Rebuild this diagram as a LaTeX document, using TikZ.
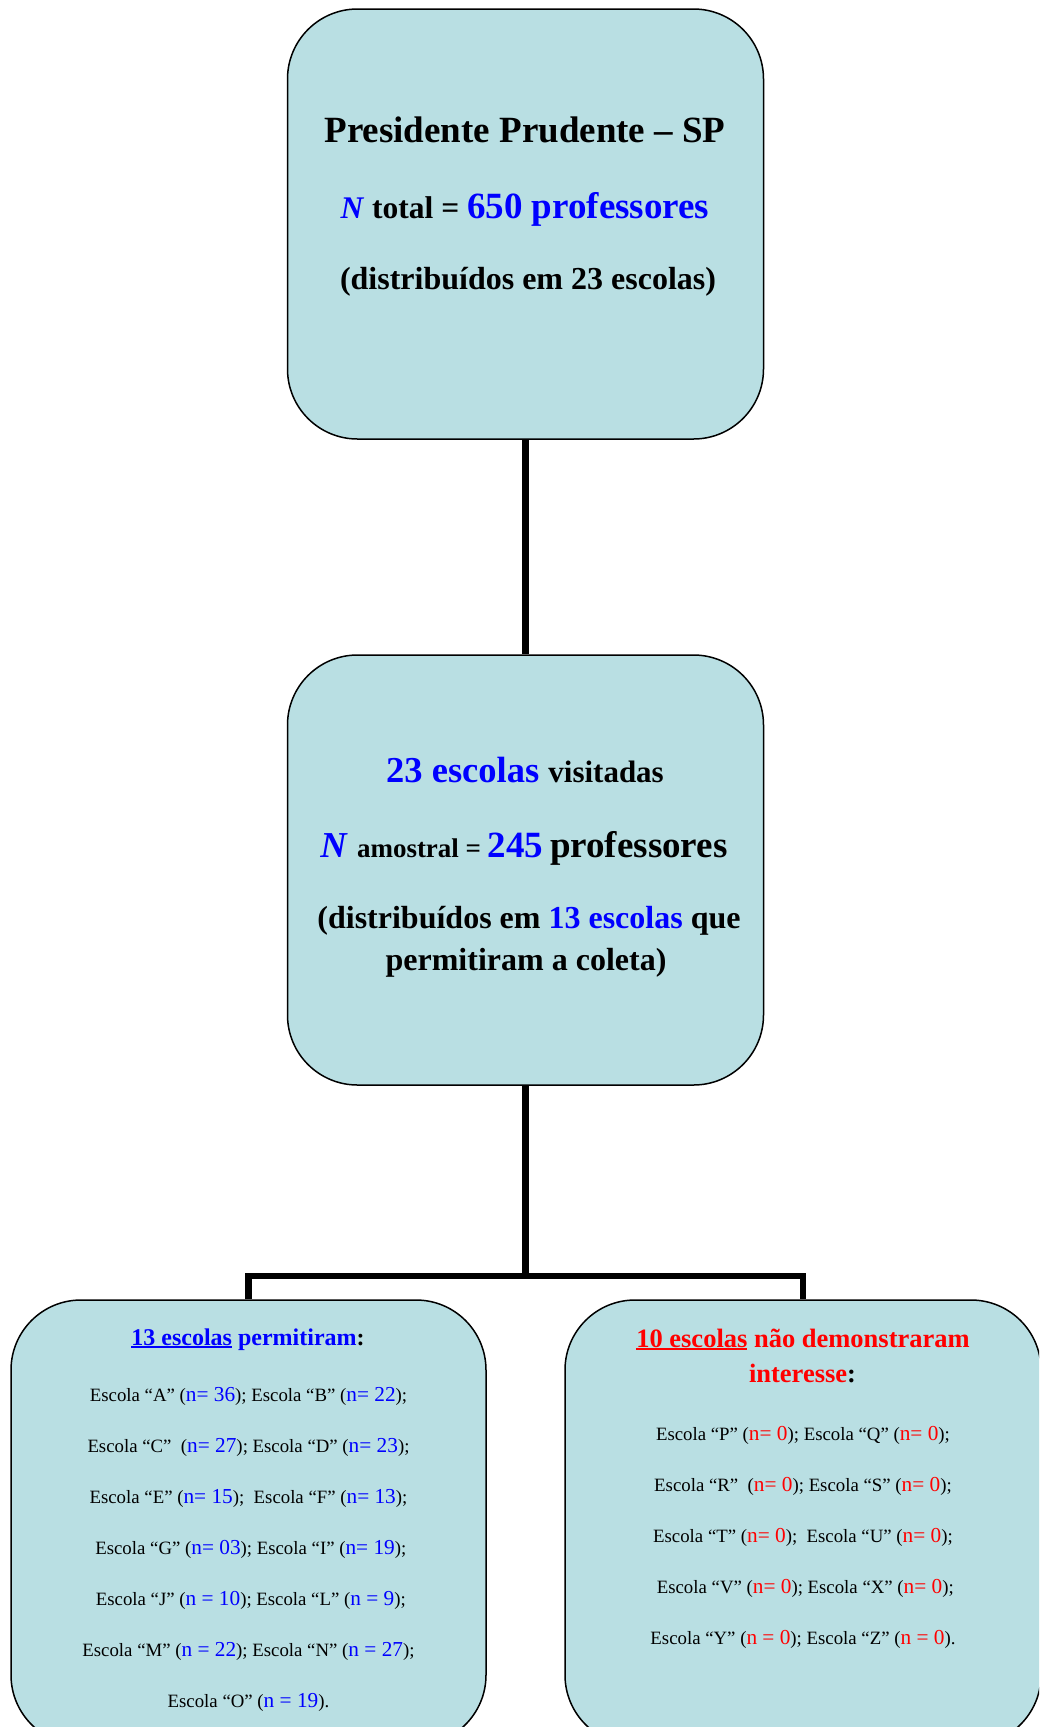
\documentclass[tikz,border=0pt]{standalone}
\usepackage{fontspec}
\setmainfont{Liberation Serif}
\usepackage{tikz}
\usetikzlibrary{positioning}
\definecolor{boxfill}{HTML}{B9DFE3}
\definecolor{numblue}{HTML}{0000FF}
\definecolor{numred}{HTML}{FF0000}
\newcommand{\setfs}[1]{\fontsize{#1}{#1}\selectfont}
\newcommand{\bn}[1]{\textcolor{numblue}{\setfs{21.3}#1}}
\newcommand{\rn}[1]{\textcolor{numred}{\setfs{21.3}#1}}
\newcommand{\uln}[1]{\setbox0\hbox{#1}\rlap{\rule[-2.8pt]{\wd0}{1.8pt}}\box0\relax}

\begin{document}
\begin{tikzpicture}[x=1pt, y=-1pt,
    box/.style={draw=black, line width=1.5pt, fill=boxfill, rounded corners=70pt, minimum width=476pt, minimum height=430pt, inner sep=0pt},
    link/.style={line width=6.3pt},
    headline/.style={anchor=base, inner sep=0pt, font=\bfseries},
    listline/.style={anchor=base, inner sep=0pt, font=\setfs{18.8}}]
    \useasboundingbox (0,0) rectangle (1039,1727);
    \clip (0,0) rectangle (1039,1727);

    % Boxes
    \node[box] (city) at (525.5,224) {};
    \node[box] (visits) at (525.5,870) {};
    \node[box, minimum width=475pt, minimum height=445pt] (allowed) at (248.5,1522.5) {};
    \node[box, minimum height=445pt] (refused) at (803,1522.5) {};

    % Connectors
    \coordinate (fork) at (525.5,1276);
    \draw[link] (city.south) -- (visits.north);
    \draw[link] (visits.south) -- (fork);
    \draw[link] (allowed.north) |- (fork) -| (refused.north);

    % Top box text
    \node[headline, font=\bfseries\setfs{37}] (cityname) at (525,142) {Presidente Prudente – SP};
    \node[headline] (total) at (525,218) {\setfs{31.5}\textcolor{numblue}{\textit{N}} total = \textcolor{numblue}{\setfs{37}650 professores}};
    \node[headline, font=\bfseries\setfs{32}] (spread) at (528,289) {(distribuídos em 23 escolas)};

    % Middle box text
    \node[headline] (visited) at (525,782) {\setfs{36.5}\textcolor{numblue}{23 escolas} \setfs{31}visitadas};
    \node[headline] (sample) at (524,857) {\textcolor{numblue}{\setfs{36.5}\textit{N}\/ }\setfs{27}amostral = \textcolor{numblue}{\setfs{37}245} \setfs{37}professores};
    \node[headline, font=\bfseries\setfs{32}] (spreadA) at (529,928) {(distribuídos em \textcolor{numblue}{13 escolas} que};
    \node[headline, font=\bfseries\setfs{32}] (spreadB) at (526,970) {permitiram a coleta)};

    % Schools that allowed the survey
    \node[headline, font=\bfseries\setfs{24}] (okhead) at (248,1345) {\textcolor{numblue}{\uln{13 escolas} permitiram}:};
    \foreach \txt [count=\i] in {
        {Escola “A” (\bn{n= 36}); Escola “B” (\bn{n= 22});},
        {Escola “C”~ (\bn{n= 27}); Escola “D” (\bn{n= 23});},
        {Escola “E” (\bn{n= 15});~ Escola “F” (\bn{n= 13});},
        {~Escola “G” (\bn{n= 03}); Escola “I” (\bn{n= 19});},
        {~Escola “J” (\bn{n = 10}); Escola “L” (\bn{n = 9});},
        {Escola “M” (\bn{n = 22}); Escola “N” (\bn{n = 27});},
        {Escola “O” (\bn{n = 19}).}} {
        \node[listline] (ok\i) at (248.5,1401+51*\i-51) {\txt};
    }

    % Schools without interest
    \node[headline, font=\bfseries\setfs{26.5}] (nohead) at (803,1347) {\textcolor{numred}{\uln{10 escolas} não demonstraram}};
    \node[headline, font=\bfseries\setfs{26.5}] (noheadB) at (802.5,1382) {\textcolor{numred}{interesse}:};
    \foreach \txt [count=\i] in {
        {Escola “P” (\rn{n= 0}); Escola “Q” (\rn{n= 0});},
        {Escola “R”~ (\rn{n= 0}); Escola “S” (\rn{n= 0});},
        {Escola “T” (\rn{n= 0});~ Escola “U” (\rn{n= 0});},
        {~Escola “V” (\rn{n= 0}); Escola “X” (\rn{n= 0});},
        {Escola “Y” (\rn{n = 0}); Escola “Z” (\rn{n = 0}).}} {
        \node[listline] (no\i) at (803,1440+51*\i-51) {\txt};
    }
\end{tikzpicture}
\end{document}
